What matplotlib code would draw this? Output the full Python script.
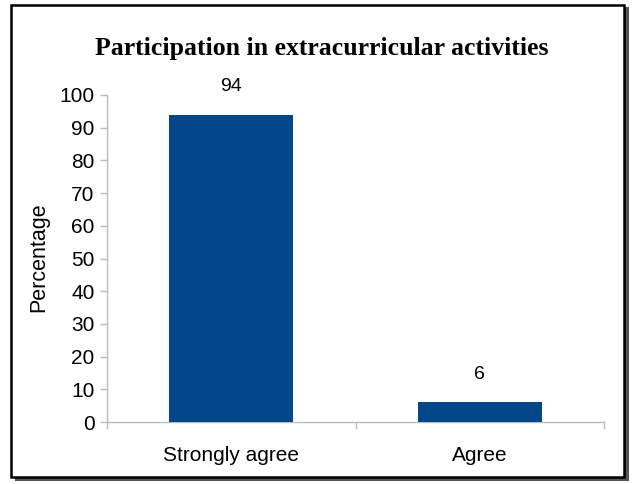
import matplotlib
matplotlib.use("Agg")
import matplotlib.pyplot as plt
from matplotlib.patches import Rectangle

categories = ["Strongly agree", "Agree"]
values = [94, 6]
yticks = [0, 10, 20, 30, 40, 50, 60, 70, 80, 90, 100]
title = "Participation in extracurricular activities"
ylabel = "Percentage"

W, H = 633, 484
fig = plt.figure(figsize=(W / 100, H / 100), dpi=100)
fig.patch.set_facecolor("white")

# outer frame with shadow
shadow = Rectangle((15 / W, 1 - 481 / H), 614 / W, 474 / H, transform=fig.transFigure,
                   facecolor="#555555", edgecolor="none", zorder=0)
fig.patches.append(shadow)
frame = Rectangle((11 / W, 1 - 477 / H), 613 / W, 472 / H, transform=fig.transFigure,
                  facecolor="white", edgecolor="black", linewidth=1.8, zorder=1)
fig.patches.append(frame)

ax = fig.add_axes([107 / W, 1 - 422 / H, (604 - 107) / W, (422 - 95) / H])
ax.set_facecolor("none")
ax.set_zorder(2)

x = list(range(len(categories)))
bars = ax.bar(x, values, width=0.5, color="#03468A", zorder=3)

ax.set_xlim(-0.5, len(categories) - 0.5)
ax.set_ylim(0, 100)
ax.set_yticks(yticks)

narrow = ["Liberation Sans Narrow", "Liberation Sans", "DejaVu Sans"]
ax.set_yticklabels([str(t) for t in yticks], family=narrow, fontsize=15)
ax.set_xticks(x)
ax.set_xticklabels(categories, family=narrow, fontsize=15)
ax.tick_params(axis="x", length=0, pad=17)
ax.tick_params(axis="y", length=5, color="#BBBBBB", width=1, pad=4)

# boundary ticks on x axis
for b in [-0.5, 0.5, 1.5]:
    ax.plot([b, b], [0, -0.017], transform=ax.get_xaxis_transform(), color="#BBBBBB",
            lw=1, clip_on=False, zorder=3)

for s in ["top", "right"]:
    ax.spines[s].set_visible(False)
for s in ["left", "bottom"]:
    ax.spines[s].set_color("#BBBBBB")
    ax.spines[s].set_linewidth(1)

for xi, v in zip(x, values):
    ax.annotate(str(v), (xi, v), xytext=(0, 14), textcoords="offset points",
                ha="center", va="bottom", family=narrow, fontsize=14)

ax.set_ylabel(ylabel, family=["Liberation Sans", "DejaVu Sans"], fontsize=15.5)
ax.yaxis.set_label_coords(-0.117, 0.505)

fig.text(322 / W, 1 - 55 / H, title, ha="center", va="baseline",
         family=["Liberation Serif", "DejaVu Serif"], fontweight="bold", fontsize=18.5)

fig.savefig("out.png", dpi=100)
